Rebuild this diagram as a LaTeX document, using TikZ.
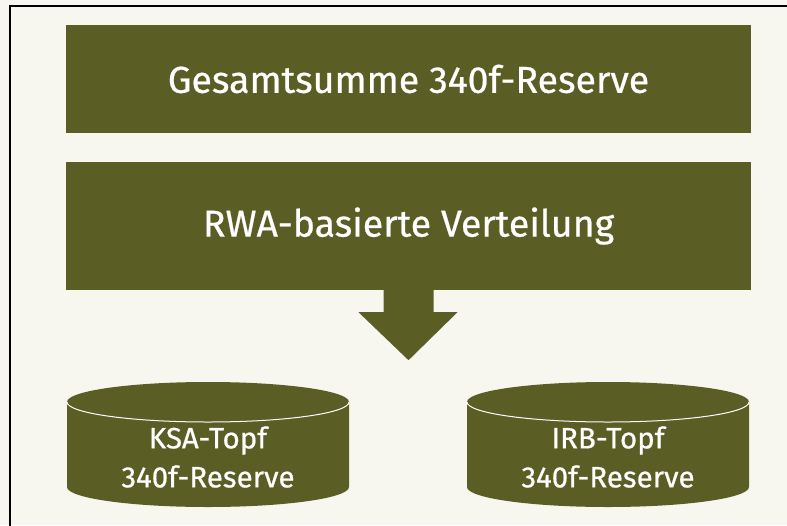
\documentclass[tikz,border=0pt]{standalone}
\usepackage{fontspec}
\setmainfont{Fira Sans}[FakeBold=0.6]
\usetikzlibrary{positioning}

\definecolor{olivebox}{RGB}{90,94,37}
\definecolor{paperbg}{RGB}{247,247,240}

\tikzset{
  bar/.style={fill=olivebox, text=white, minimum width=685pt, inner sep=0pt,
    font=\fontsize{37.5}{44}\selectfont},
  potlabel/.style={text=white, align=center, inner sep=0pt,
    font=\fontsize{29.5}{39}\selectfont}
}

\begin{document}
\begin{tikzpicture}[x=1pt,y=-1pt]
        \useasboundingbox (0,0) rectangle (787,525);
        \fill[paperbg] (0,0) rectangle (787,525);
        \begin{scope}
        \clip (0,0) rectangle (787,525);
        \draw[black, line width=1.6pt] (9.8,5.8) rectangle (800,540);
        \end{scope}
        % boxes
        \node[bar, minimum height=108pt] (total) at (408.5,79) {Gesamtsumme 340f-Reserve};
        \node[bar, minimum height=128pt] (rwa) at (408.5,226) {RWA-basierte Verteilung};
        % arrow
        \fill[olivebox] ([xshift=-25pt]rwa.south) -- ++(0,22) -- ++(-25,0)
          -- ([yshift=-70pt]rwa.south) -- ++(49,-48) -- ++(-24,0)
          -- ([xshift=25pt]rwa.south) -- cycle;
        % cylinders
        \foreach \cx/\nm/\txt in {208/ksa/KSA-Topf, 608/irb/IRB-Topf}{
          \fill[olivebox] (\cx-141,402) -- (\cx-141,487)
            arc[start angle=180, end angle=0, x radius=141, y radius=20]
            -- (\cx+141,402)
            arc[start angle=0, end angle=-180, x radius=141, y radius=20] -- cycle;
          \draw[white, line width=1pt] (\cx-141,402)
            arc[start angle=180, end angle=0, x radius=141, y radius=20];
          \node[potlabel] (\nm) at (\cx,457) {\txt\\340f-Reserve};
        }
\end{tikzpicture}
\end{document}
